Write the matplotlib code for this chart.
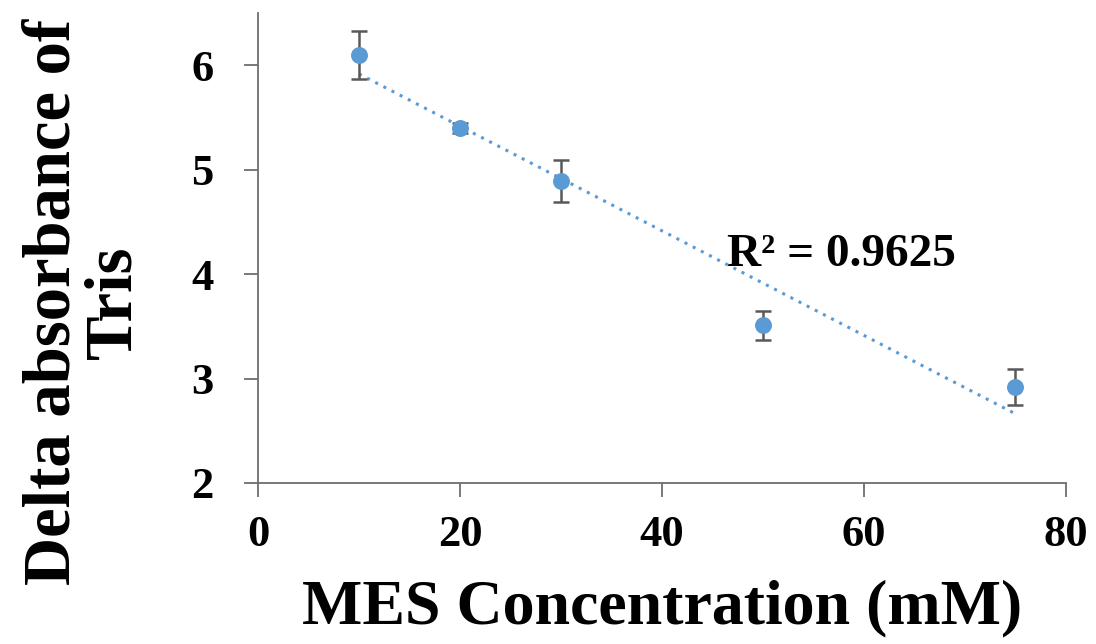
import numpy as np
import matplotlib
matplotlib.use("Agg")
import matplotlib.pyplot as plt

# MES concentration (mM) vs delta absorbance of Tris
mes_conc = np.array([10, 20, 30, 50, 75])
delta_abs = np.array([6.10, 5.40, 4.89, 3.51, 2.92])
abs_err = np.array([0.23, 0.05, 0.20, 0.14, 0.17])
r2_label = "R² = 0.9625"

BLUE = "#5B9BD5"
GREY = "#595959"

plt.rcParams["font.family"] = ["Liberation Serif", "DejaVu Serif"]
plt.rcParams["font.weight"] = "bold"

fig = plt.figure(figsize=(10.96, 6.44), dpi=100)
ax = fig.add_axes([0.2354, 0.25, 0.9726 - 0.2354, 0.73])

ax.errorbar(mes_conc, delta_abs, yerr=abs_err, fmt="none", ecolor=GREY,
            elinewidth=1.8, capsize=6, capthick=1.8, zorder=2)
ax.scatter(mes_conc, delta_abs, s=125, color=BLUE, zorder=3)

# linear trendline
slope, intercept = np.polyfit(mes_conc, delta_abs, 1)
xs = np.array([mes_conc.min(), mes_conc.max()])
ax.plot(xs, slope * xs + intercept, linestyle=(0, (1, 2)), color=BLUE, lw=2.2, zorder=1)

ax.text(46.4, 4.18, r2_label, fontsize=34, fontweight="bold", va="center", ha="left")

ax.set_xlim(0, 80)
ax.set_ylim(2, 6.5)
ax.set_xticks([0, 20, 40, 60, 80])
ax.set_yticks([2, 3, 4, 5, 6])
for side in ["top", "right"]:
    ax.spines[side].set_visible(False)
for side in ["left", "bottom"]:
    ax.spines[side].set_color("#6E6E6E")
    ax.spines[side].set_linewidth(1.3)
ax.tick_params(axis="both", direction="out", length=10, width=1.3, color="#6E6E6E",
               labelsize=32)
ax.tick_params(axis="x", pad=13)
ax.tick_params(axis="y", pad=22)
for lbl in ax.get_xticklabels() + ax.get_yticklabels():
    lbl.set_fontweight("bold")

ax.set_xlabel("MES Concentration (mM)", fontsize=46, fontweight="bold")
ax.xaxis.set_label_coords(0.5, -0.205)
ax.set_ylabel("Delta absorbance of\nTris", fontsize=48, fontweight="bold",
              linespacing=1.0)
ax.yaxis.set_label_coords(-0.140, 0.385)

fig.savefig("out.png", dpi=100)
